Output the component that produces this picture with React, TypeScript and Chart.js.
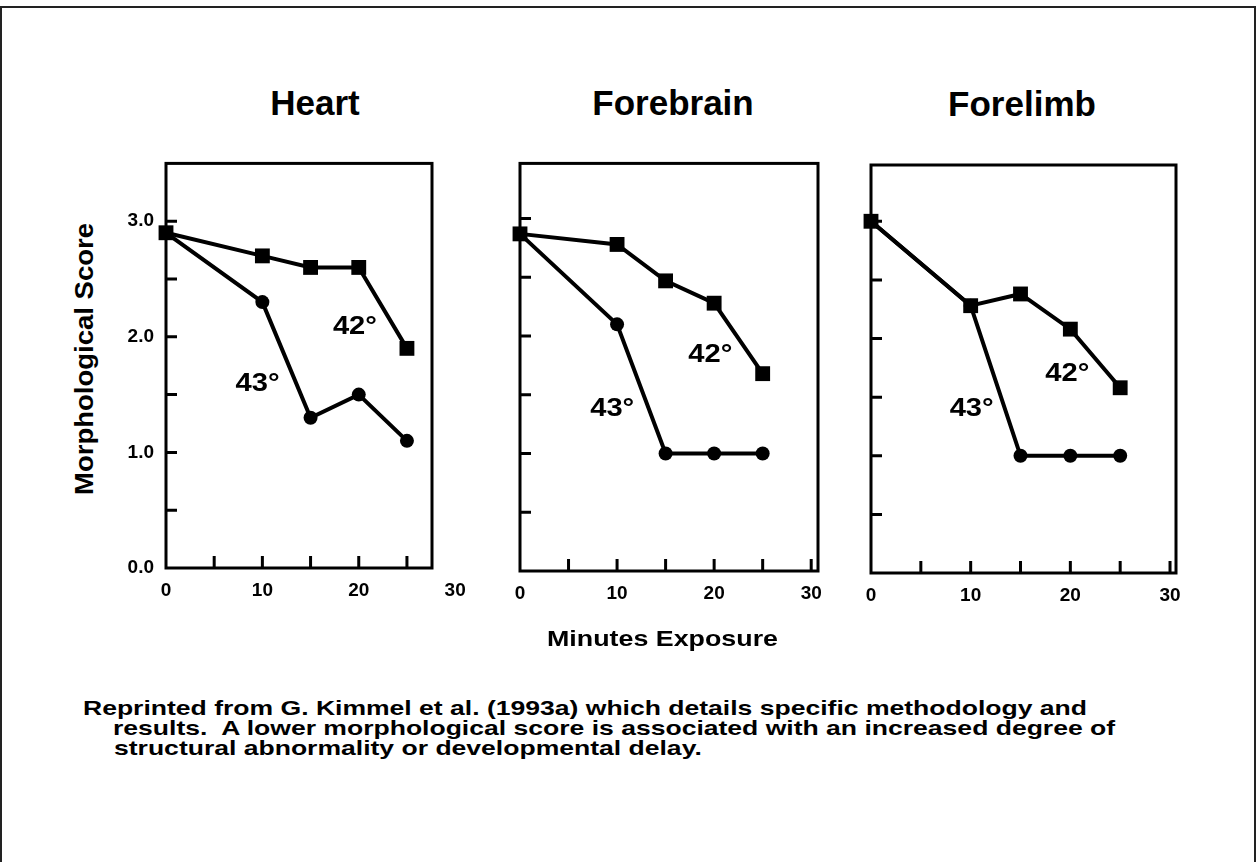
import React, { useEffect, useRef } from 'react';
import { Chart, registerables } from 'chart.js';

Chart.register(...registerables);

// ---------- data ----------
const minutes = [0, 10, 15, 20, 25];
const heart42 = [2.9, 2.7, 2.6, 2.6, 1.9];
const heart43 = [2.9, 2.3, 1.3, 1.5, 1.1];
const forebrain42 = [2.87, 2.78, 2.47, 2.28, 1.68];
const forebrain43 = [2.87, 2.1, 1.0, 1.0, 1.0];
const forelimb42 = [3.0, 2.28, 2.38, 2.08, 1.58];
const forelimb43 = [3.0, 2.28, 1.0, 1.0, 1.0];
const xTickValues = [0, 5, 10, 15, 20, 25, 30];
const yTickValues = [0, 0.5, 1, 1.5, 2, 2.5, 3, 3.5];
const panelTitles = ['Heart', 'Forebrain', 'Forelimb'];
const seriesLabels = ['42°', '43°'];
// label anchor points (minutes, score) for the in-plot series labels
const heartLabelAt = [[19.6, 2.09], [9.5, 1.59]];
const forebrainLabelAt = [[19.6, 1.84], [9.5, 1.38]];
const forelimbLabelAt = [[19.7, 1.7], [10.1, 1.4]];
const yAxisTitle = 'Morphological Score';
const xAxisTitle = 'Minutes Exposure';
const captionLines = [
  'Reprinted from G. Kimmel et al. (1993a) which details specific methodology and',
  'results.  A lower morphological score is associated with an increased degree of',
  'structural abnormality or developmental delay.',
];

const FONT = "'Liberation Sans', Arial, Helvetica, sans-serif";

// ---------- layout ----------
const panels = [
  { title: panelTitles[0], s42: heart42, s43: heart43, labelAt: heartLabelAt, showY: true,
    left: 100, top: 140, w: 380, h: 480, padTop: 20, padRight: 48, yW: 66, xH: 52, xMax: 27.6, yMax: 3.5,
    titleCx: 315, titleBase: 115 },
  { title: panelTitles[1], s42: forebrain42, s43: forebrain43, labelAt: forebrainLabelAt, showY: false,
    left: 460, top: 140, w: 380, h: 480, padTop: 23, padRight: 22, yW: 60, xH: 49, xMax: 30.7, yMax: 3.47,
    titleCx: 673, titleBase: 115 },
  { title: panelTitles[2], s42: forelimb42, s43: forelimb43, labelAt: forelimbLabelAt, showY: false,
    left: 820, top: 140, w: 400, h: 480, padTop: 25, padRight: 44, yW: 51, xH: 47, xMax: 30.6, yMax: 3.48,
    titleCx: 1022, titleBase: 116 },
];

function measure(text: string, font: string): number {
  const c = document.createElement('canvas');
  const ctx = c.getContext('2d')!;
  ctx.font = font;
  return ctx.measureText(text).width;
}

function Panel({ p }: { p: any }) {
  const ref = useRef<HTMLCanvasElement | null>(null);
  useEffect(() => {
    const canvas = ref.current!;
    const framePlugin = {
      id: 'frameTicks',
      beforeDatasetsDraw(chart: any) {
        const { ctx, chartArea: a } = chart;
        const xs = chart.scales.x;
        const ys = chart.scales.y;
        ctx.save();
        ctx.strokeStyle = '#000';
        ctx.lineWidth = 3;
        ctx.strokeRect(a.left, a.top, a.right - a.left, a.bottom - a.top);
        ctx.beginPath();
        ys.ticks.forEach((t: any) => {
          if (t.value > 0 && t.value < ys.max - 0.01) {
            const py = ys.getPixelForValue(t.value);
            ctx.moveTo(a.left, py);
            ctx.lineTo(a.left + 11, py);
          }
        });
        xs.ticks.forEach((t: any) => {
          if (t.value > 0 && t.value < xs.max - 0.01) {
            const px = xs.getPixelForValue(t.value);
            ctx.moveTo(px, a.bottom);
            ctx.lineTo(px, a.bottom - 12);
          }
        });
        ctx.stroke();
        ctx.restore();
      },
    };
    const labelPlugin = {
      id: 'seriesLabels',
      afterDatasetsDraw(chart: any) {
        const { ctx } = chart;
        const xs = chart.scales.x;
        const ys = chart.scales.y;
        ctx.save();
        ctx.fillStyle = '#000';
        ctx.font = `bold 26px ${FONT}`;
        ctx.textAlign = 'center';
        ctx.textBaseline = 'middle';
        seriesLabels.forEach((lab, i) => {
          const [vx, vy] = p.labelAt[i];
          ctx.save();
          ctx.translate(xs.getPixelForValue(vx), ys.getPixelForValue(vy));
          ctx.scale(1.12, 1);
          ctx.fillText(lab, 0, 0);
          ctx.restore();
        });
        ctx.restore();
      },
    };
    const tickFont = { family: FONT, weight: 'bold' as const, size: 19 };
    const chart = new Chart(canvas, {
      type: 'line',
      data: {
        datasets: [
          {
            label: seriesLabels[0],
            data: minutes.map((m, i) => ({ x: m, y: p.s42[i] })),
            borderColor: '#000',
            backgroundColor: '#000',
            borderWidth: 4,
            pointStyle: 'rect',
            pointRadius: 10.5,
            pointBorderWidth: 0,
            pointBackgroundColor: '#000',
            clip: false as any,
          },
          {
            label: seriesLabels[1],
            data: minutes.map((m, i) => ({ x: m, y: p.s43[i] })),
            borderColor: '#000',
            backgroundColor: '#000',
            borderWidth: 4,
            pointStyle: 'circle',
            pointRadius: 7,
            pointBorderWidth: 0,
            pointBackgroundColor: '#000',
            clip: false as any,
          },
        ],
      },
      options: {
        responsive: false,
        animation: false,
        layout: { padding: { left: 0, top: p.padTop, right: p.padRight, bottom: 0 } },
        plugins: { legend: { display: false }, tooltip: { enabled: false }, title: { display: false } },
        scales: {
          x: {
            type: 'linear',
            min: 0,
            max: p.xMax,
            grid: { display: false, drawTicks: false },
            border: { display: false },
            afterBuildTicks: (s: any) => { s.ticks = xTickValues.map((v) => ({ value: v })); },
            afterFit: (s: any) => { s.height = p.xH; },
            ticks: {
              autoSkip: false,
              maxRotation: 0,
              padding: 11,
              color: '#000',
              font: tickFont,
              callback: (v: any) => (Number(v) % 10 === 0 ? String(v) : ''),
            },
          },
          y: {
            type: 'linear',
            min: 0,
            max: p.yMax,
            grid: { display: false, drawTicks: false },
            border: { display: false },
            afterBuildTicks: (s: any) => { s.ticks = yTickValues.map((v) => ({ value: v })); },
            afterFit: (s: any) => { s.width = p.yW; },
            ticks: {
              autoSkip: false,
              padding: 12,
              color: '#000',
              font: tickFont,
              callback: (v: any) => (p.showY && Number(v) % 1 === 0 ? Number(v).toFixed(1) : ''),
            },
          },
        },
      } as any,
      plugins: [framePlugin, labelPlugin],
    });
    return () => chart.destroy();
  }, [p]);
  return (
    <canvas
      ref={ref}
      width={p.w}
      height={p.h}
      style={{ position: 'absolute', left: p.left, top: p.top, width: p.w, height: p.h }}
    />
  );
}

function Txt({ text, x, baseline, size, width, center, rotate }: any) {
  const font = `bold ${size}px ${FONT}`;
  const natural = measure(text, font);
  const sx = width ? width / natural : 1;
  const common: any = {
    position: 'absolute',
    fontFamily: FONT,
    fontWeight: 'bold',
    fontSize: size,
    lineHeight: `${size}px`,
    whiteSpace: 'pre',
    color: '#000',
  };
  if (rotate) {
    return (
      <div style={{ ...common, left: x, top: baseline, transform: `translate(-50%, -50%) rotate(-90deg) scaleX(${sx})` }}>
        {text}
      </div>
    );
  }
  const w = natural * sx;
  const left = center ? x - w / 2 : x;
  return (
    <div style={{ ...common, left, top: baseline - 0.8465 * size, transformOrigin: '0 0', transform: `scaleX(${sx})` }}>
      {text}
    </div>
  );
}

export default function App() {
  const capSize = 21;
  const capFont = `bold ${capSize}px ${FONT}`;
  const capScale = 1004 / measure(captionLines[0], capFont);
  const capLefts = [83, 113, 114];
  const capBases = [715, 735, 755];
  return (
    <div style={{ position: 'absolute', left: 0, top: 0, width: 1257, height: 862, overflow: 'hidden', background: '#fff' }}>
      <div style={{ position: 'absolute', left: 0, top: 6, width: 1256, height: 900, border: '2px solid #222', boxSizing: 'border-box' }} />
      {panels.map((p, i) => (
        <Txt key={'t' + i} text={p.title} x={p.titleCx} baseline={p.titleBase} size={35} center />
      ))}
      {panels.map((p, i) => (
        <Panel key={'p' + i} p={p} />
      ))}
      <Txt text={yAxisTitle} x={84} baseline={359} size={26} width={272} rotate />
      <Txt text={xAxisTitle} x={547} baseline={647} size={22} width={231} />
      {captionLines.map((line, i) => (
        <div key={'c' + i} style={{
          position: 'absolute', left: capLefts[i], top: capBases[i] - 0.8465 * capSize,
          fontFamily: FONT, fontWeight: 'bold', fontSize: capSize, lineHeight: `${capSize}px`, whiteSpace: 'pre',
          transformOrigin: '0 0', transform: `scaleX(${capScale})`, color: '#000',
        }}>{line}</div>
      ))}
    </div>
  );
}
